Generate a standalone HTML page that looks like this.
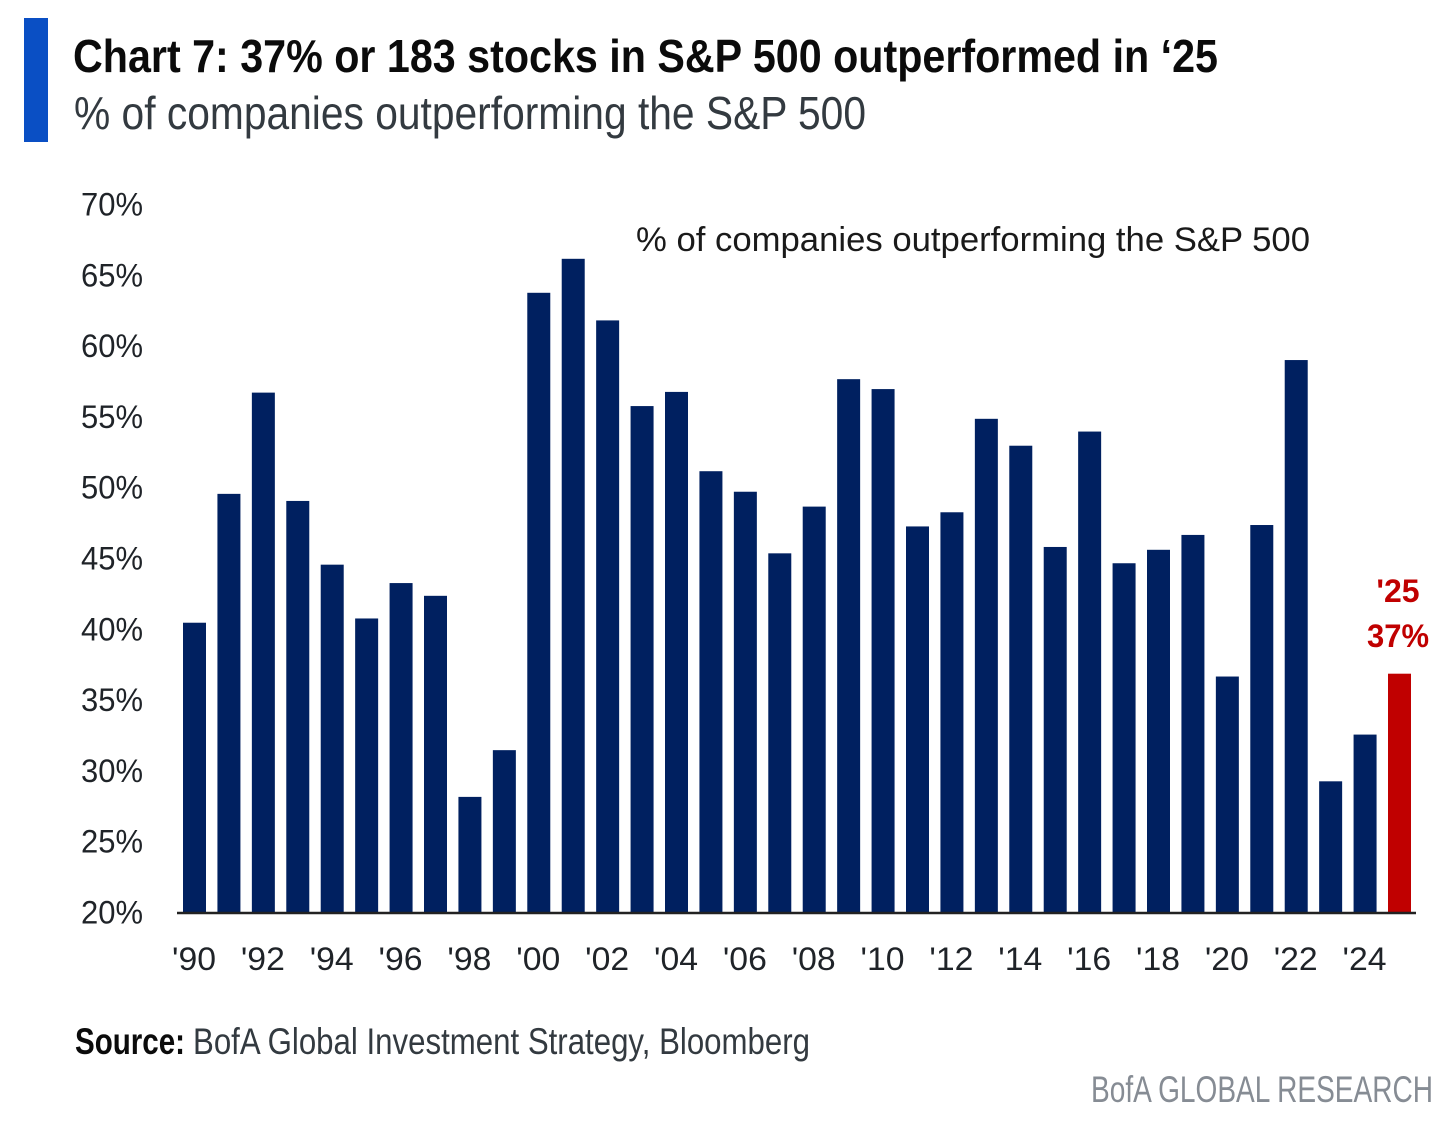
<!DOCTYPE html>
<html lang="en">
<head>
<meta charset="utf-8">
<title>Chart 7</title>
<style>
html,body{margin:0;padding:0;background:#fff;width:1456px;height:1122px;overflow:hidden}
svg{display:block}
text{font-family:"Liberation Sans",sans-serif;filter:blur(0.35px)}
</style>
</head>
<body>
<svg id="chart" width="1456" height="1122" viewBox="0 0 1456 1122" xmlns="http://www.w3.org/2000/svg">
  <rect x="24" y="18" width="24" height="124" fill="#0A4FC4"/>
  <text x="73" y="72" font-size="46" font-weight="700" fill="#0b0b0b" textLength="1145" lengthAdjust="spacingAndGlyphs">Chart 7: 37% or 183 stocks in S&amp;P 500 outperformed in ‘25</text>
  <text x="74" y="129" font-size="46" fill="#333a40" textLength="792" lengthAdjust="spacingAndGlyphs">% of companies outperforming the S&amp;P 500</text>
  <text x="636" y="251" font-size="34" fill="#1a1a1a" textLength="674" lengthAdjust="spacingAndGlyphs">% of companies outperforming the S&amp;P 500</text>
  <g id="y-axis"></g>
  <g id="bars"></g>
  <g id="x-axis"></g>
  <text x="1398" y="602" font-size="32" font-weight="700" fill="#C00000" text-anchor="middle">'25</text>
  <text x="1398" y="647" font-size="32" font-weight="700" fill="#C00000" text-anchor="middle" textLength="62" lengthAdjust="spacingAndGlyphs">37%</text>
  <text x="75" y="1054" font-size="37" font-weight="700" fill="#0b0b0b" textLength="110" lengthAdjust="spacingAndGlyphs">Source:</text>
  <text x="193" y="1054" font-size="37" fill="#333a40" textLength="617" lengthAdjust="spacingAndGlyphs">BofA Global Investment Strategy, Bloomberg</text>
  <text x="1091" y="1102" font-size="37" fill="#868c94" textLength="342" lengthAdjust="spacingAndGlyphs">BofA GLOBAL RESEARCH</text>
</svg>
<script>
const categories = ["'90","'91","'92","'93","'94","'95","'96","'97","'98","'99","'00","'01","'02","'03","'04","'05","'06","'07","'08","'09","'10","'11","'12","'13","'14","'15","'16","'17","'18","'19","'20","'21","'22","'23","'24","'25"];
const seriesValues = [40.5,49.6,56.75,49.1,44.6,40.8,43.3,42.4,28.2,31.5,63.8,66.2,61.85,55.8,56.8,51.2,49.75,45.4,48.7,57.7,57.0,47.3,48.3,54.9,53.0,45.85,54.0,44.7,45.65,46.7,36.7,47.4,59.05,29.3,32.6,36.9];
const yTickValues = [20,25,30,35,40,45,50,55,60,65,70];
const highlightCategories = ["'25"];

const NS = 'http://www.w3.org/2000/svg';
const yMin = 20, yMax = 70, plotBottom = 913, plotTop = 205;
const firstCenter = 194.5, lastCenter = 1399.5, barWidth = 23;
function yScale(v){ return plotBottom - (v - yMin) / (yMax - yMin) * (plotBottom - plotTop); }
function xScale(i){ return firstCenter + i * (lastCenter - firstCenter) / (categories.length - 1); }

const barsG = document.getElementById('bars');
const xG = document.getElementById('x-axis');
const yG = document.getElementById('y-axis');

seriesValues.forEach(function(v, i){
  const r = document.createElementNS(NS, 'rect');
  
  
  r.setAttribute('x', xScale(i) - barWidth / 2);
  r.setAttribute('y', yScale(v));
  r.setAttribute('width', barWidth);
  r.setAttribute('height', plotBottom - yScale(v));
  r.setAttribute('fill', highlightCategories.includes(categories[i]) ? '#C00000' : '#002060');
  barsG.appendChild(r);
});

yTickValues.forEach(function(v){
  const t = document.createElementNS(NS, 'text');
  
  
  t.setAttribute('x', 81);
  t.setAttribute('y', yScale(v) + 10.5);
  t.setAttribute('font-size', 32);
  t.setAttribute('fill', '#1f2328');
  t.setAttribute('textLength', 62);
  t.setAttribute('lengthAdjust', 'spacingAndGlyphs');
  t.textContent = v + '%';
  yG.appendChild(t);
});

const axisLine = document.createElementNS(NS, 'line');


axisLine.setAttribute('x1', 177);
axisLine.setAttribute('x2', 1416);
axisLine.setAttribute('y1', plotBottom);
axisLine.setAttribute('y2', plotBottom);
axisLine.setAttribute('stroke', '#222');
axisLine.setAttribute('stroke-width', 2.5);
xG.appendChild(axisLine);

categories.forEach(function(c, i){
  if (i % 2 !== 0) return;
  const t = document.createElementNS(NS, 'text');
  
  
  t.setAttribute('x', xScale(i) - 0.5);
  t.setAttribute('y', 970);
  t.setAttribute('font-size', 32);
  t.setAttribute('fill', '#1f2328');
  t.setAttribute('text-anchor', 'middle');
  t.setAttribute('textLength', 44);
  t.setAttribute('lengthAdjust', 'spacingAndGlyphs');
  t.textContent = c;
  xG.appendChild(t);
});
</script>
</body>
</html>
